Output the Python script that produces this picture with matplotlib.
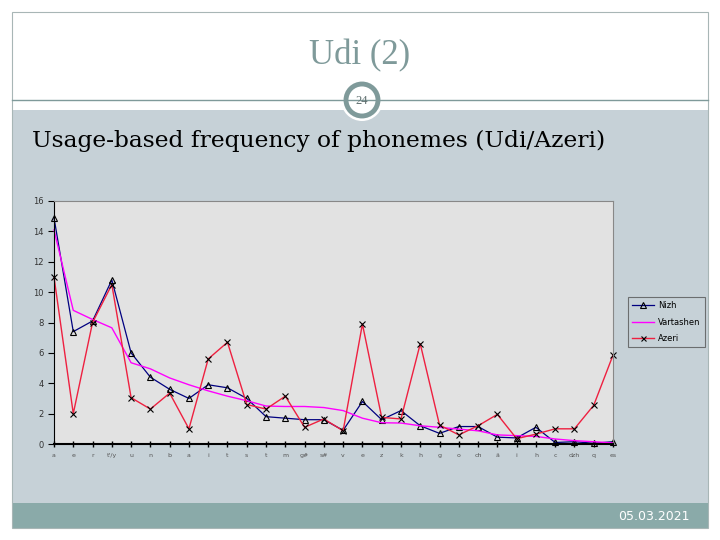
import numpy as np
import matplotlib
matplotlib.use("Agg")
import matplotlib.pyplot as plt
from matplotlib.patches import Rectangle, Circle

# phoneme labels (x axis)
phonemes = ["a", "e", "r", "t'/y", "u", "n", "b", "a", "i", "t", "s", "t", "m", "g#", "s#",
            "v", "e", "z", "k", "h", "g", "o", "ch", "ä", "i", "h", "c", "dzh", "q", "es"]

# frequency in %
nizh = [14.9, 7.4, 8.1, 10.8, 6.0, 4.4, 3.6, 3.0, 3.9, 3.7, 3.0, 1.8, 1.7, 1.6, 1.6,
        0.9, 2.8, 1.6, 2.2, 1.2, 0.7, 1.15, 1.15, 0.45, 0.4, 1.1, 0.1, 0.15, 0.05, 0.15]
vartashen = [14.1, 8.8, 8.2, 7.65, 5.35, 4.95, 4.35, 3.9, 3.5, 3.15, 2.85, 2.5, 2.47, 2.47, 2.4,
             2.2, 1.7, 1.4, 1.38, 1.2, 1.1, 0.98, 0.87, 0.6, 0.55, 0.5, 0.33, 0.22, 0.15, 0.07]
azeri = [11.0, 2.0, 8.0, 10.5, 3.05, 2.3, 3.35, 1.0, 5.6, 6.7, 2.6, 2.3, 3.15, 1.1, 1.65,
         0.87, 7.9, 1.75, 1.65, 6.6, 1.25, 0.6, 1.2, 1.95, 0.35, 0.65, 1.0, 1.0, 2.55, 5.85]

W, H = 720, 540
fig = plt.figure(figsize=(7.2, 5.4), dpi=100)

# slide background drawn in pixel coordinates
bg = fig.add_axes([0, 0, 1, 1])
bg.set_xlim(0, W)
bg.set_ylim(H, 0)
bg.axis("off")

band = "#c6d1d7"
teal = "#7f9a9a"
bg.add_patch(Rectangle((12, 110), 696, 393, facecolor=band, edgecolor="none"))
bg.add_patch(Rectangle((12, 503), 696, 25, facecolor="#8aaaa9", edgecolor="none"))
bg.add_patch(Rectangle((12, 12), 696, 516, facecolor="none", edgecolor="#a8b6b6", lw=0.8))
bg.plot([12, 708], [100, 100], color=teal, lw=1.0)
bg.add_patch(Circle((362, 100), 21, facecolor="white", edgecolor="none"))
bg.add_patch(Circle((362, 100), 16, facecolor="white", edgecolor=teal, lw=3.5))
bg.text(362, 101, "24", ha="center", va="center", fontsize=9, color="#607070",
        family="Liberation Serif")
bg.text(360, 56, "Udi (2)", ha="center", va="center", fontsize=25, color=teal,
        family="Liberation Serif")
bg.text(32, 141, "Usage-based frequency of phonemes (Udi/Azeri)", ha="left", va="center",
        fontsize=16.8, color="black", family="DejaVu Serif")
bg.text(690, 516, "05.03.2021", ha="right", va="center", fontsize=9, color="white")

# chart
ax = fig.add_axes([54 / W, (H - 444) / H, (613 - 54) / W, (444 - 201) / H])
ax.set_facecolor("#e2e2e2")
x = np.arange(len(phonemes))
ax.plot(x, nizh, color="#000080", lw=0.9, marker="^", markersize=5,
        markerfacecolor="none", markeredgecolor="black", markeredgewidth=0.8, label="Nizh")
ax.plot(x, vartashen, color="#ff00ff", lw=1.0, label="Vartashen")
ax.plot(x, azeri, color="#ee2040", lw=1.0, marker="x", markersize=4.5,
        markeredgecolor="black", markeredgewidth=0.8, label="Azeri")

ax.set_xlim(0, len(phonemes) - 1)
ax.set_ylim(0, 16)
ax.set_yticks(range(0, 17, 2))
ax.set_xticks(x)
ax.set_xticklabels(phonemes, fontsize=4.5, color="#555555")
ax.tick_params(axis="x", direction="inout", length=5, width=1, pad=4)
ax.tick_params(axis="y", direction="out", length=4, width=0.8, labelsize=6, labelcolor="#333333")
for s in ["top", "right"]:
    ax.spines[s].set_color("#888888")
    ax.spines[s].set_linewidth(0.8)
ax.spines["bottom"].set_linewidth(1.5)
ax.spines["left"].set_linewidth(0.8)
for m in ax.get_lines():
    m.set_clip_on(False)

leg = ax.legend(loc="upper left", bbox_to_anchor=(628 / W, 1 - 297 / H),
                bbox_transform=fig.transFigure, fontsize=6, frameon=True,
                fancybox=False, facecolor=band, edgecolor="#555555",
                handlelength=2.6, handletextpad=0.5, borderpad=0.5,
                labelspacing=0.9, markerscale=0.8, borderaxespad=0)
leg.get_frame().set_linewidth(0.8)

fig.savefig("out.png", dpi=100, facecolor="white")
